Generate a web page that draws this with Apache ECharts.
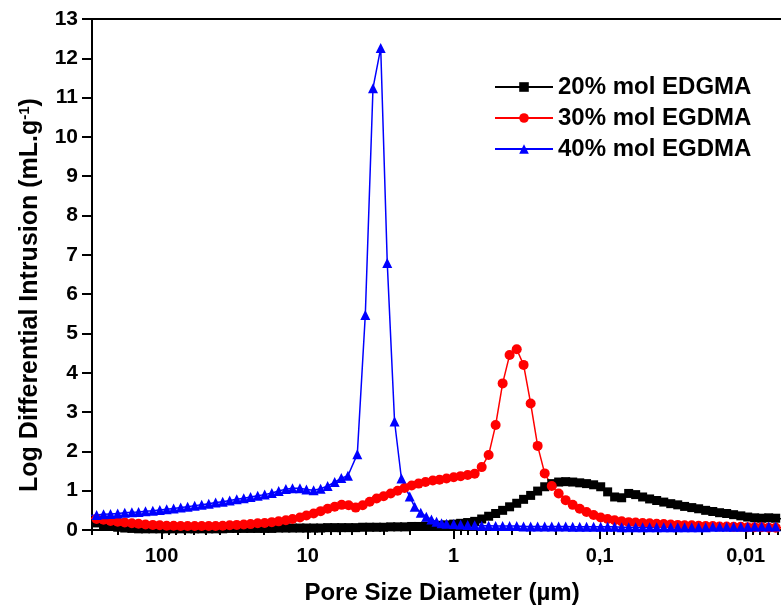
<!DOCTYPE html>
<html>
<head>
<meta charset="utf-8">
<script src="https://cdn.jsdelivr.net/npm/echarts@6/dist/echarts.min.js"></script>
<style>html,body{margin:0;padding:0;background:#fff}#c{width:781px;height:610px}</style>
</head>
<body>
<div id="c"></div>
<script>
// Pore size diameters (µm) shared by the 20% and 30% series
const poreSize = [311, 279, 250, 224, 200, 179, 160, 144, 129, 115,
  103, 92.4, 82.8, 74.1, 66.4, 59.4, 53.2, 47.6, 42.7, 38.2,
  34.2, 30.6, 27.4, 24.6, 22.0, 19.7, 17.6, 15.8, 14.1, 12.7,
  11.3, 10.2, 9.10, 8.15, 7.30, 6.53, 5.85, 5.24, 4.69, 4.20,
  3.76, 3.37, 3.02, 2.70, 2.42, 2.17, 1.94, 1.74, 1.56, 1.39,
  1.25, 1.12, 1.00, 0.896, 0.802, 0.718, 0.643, 0.576, 0.516, 0.462,
  0.414, 0.370, 0.332, 0.297, 0.266, 0.238, 0.213, 0.191, 0.171, 0.153,
  0.137, 0.123, 0.110, 0.0984, 0.0882, 0.0790, 0.0707, 0.0633, 0.0567, 0.0508,
  0.0455, 0.0407, 0.0364, 0.0326, 0.0292, 0.0262, 0.0234, 0.0210, 0.0188, 0.0168,
  0.0151, 0.0135, 0.0121, 0.0108, 0.00969, 0.00868, 0.00777, 0.00696, 0.00623, 0.00558];

// 20% mol EDGMA (black squares)
const egdma20 = [0.22, 0.18, 0.14, 0.10, 0.07, 0.05, 0.04, 0.03, 0.03, 0.03,
  0.03, 0.03, 0.03, 0.03, 0.03, 0.03, 0.03, 0.03, 0.03, 0.03,
  0.04, 0.04, 0.04, 0.04, 0.04, 0.04, 0.04, 0.05, 0.05, 0.05,
  0.05, 0.05, 0.05, 0.05, 0.06, 0.06, 0.06, 0.06, 0.06, 0.07,
  0.07, 0.07, 0.07, 0.08, 0.08, 0.08, 0.09, 0.09, 0.10, 0.11,
  0.12, 0.13, 0.15, 0.17, 0.19, 0.22, 0.28, 0.35, 0.42, 0.50,
  0.59, 0.68, 0.78, 0.88, 0.99, 1.10, 1.18, 1.22, 1.23, 1.22,
  1.20, 1.18, 1.15, 1.10, 0.97, 0.84, 0.82, 0.93, 0.90, 0.84,
  0.79, 0.75, 0.71, 0.67, 0.64, 0.60, 0.57, 0.54, 0.50, 0.47,
  0.44, 0.42, 0.39, 0.36, 0.33, 0.31, 0.30, 0.31, 0.30, 0.28];

// 30% mol EGDMA (red circles)
const egdma30 = [0.30, 0.28, 0.26, 0.23, 0.21, 0.19, 0.17, 0.16, 0.14, 0.13,
  0.12, 0.11, 0.11, 0.10, 0.10, 0.10, 0.10, 0.10, 0.10, 0.11,
  0.12, 0.13, 0.14, 0.15, 0.17, 0.18, 0.20, 0.22, 0.25, 0.28,
  0.32, 0.37, 0.42, 0.48, 0.54, 0.59, 0.64, 0.63, 0.57, 0.63,
  0.72, 0.80, 0.86, 0.93, 1.00, 1.07, 1.13, 1.18, 1.22, 1.26,
  1.28, 1.31, 1.34, 1.37, 1.40, 1.43, 1.60, 1.91, 2.67, 3.73,
  4.45, 4.60, 4.20, 3.22, 2.14, 1.44, 1.12, 0.93, 0.76, 0.64,
  0.54, 0.46, 0.38, 0.32, 0.28, 0.25, 0.22, 0.20, 0.19, 0.18,
  0.17, 0.16, 0.15, 0.14, 0.13, 0.12, 0.12, 0.11, 0.10, 0.10,
  0.09, 0.09, 0.08, 0.08, 0.07, 0.07, 0.07, 0.06, 0.06, 0.06];

// 40% mol EGDMA (blue triangles) has its own pore sizes around the peak
const poreSize40 = [311, 279, 250, 224, 200, 179, 160, 144, 129, 115,
  103, 92.4, 82.8, 74.1, 66.4, 59.4, 53.2, 47.6, 42.7, 38.2,
  34.2, 30.6, 27.4, 24.6, 22.0, 19.7, 17.6, 15.8, 14.1, 12.7,
  11.3, 10.2, 9.10, 8.15, 7.30, 6.53,
  5.88, 5.30, 4.57, 4.03, 3.57, 3.16, 2.85, 2.54, 2.28, 2.00, 1.85, 1.68, 1.54, 1.42, 1.31, 1.21,
  1.12, 1.00, 0.896, 0.802, 0.718, 0.643, 0.576, 0.516, 0.462,
  0.414, 0.370, 0.332, 0.297, 0.266, 0.238, 0.213, 0.191, 0.171, 0.153,
  0.137, 0.123, 0.110, 0.0984, 0.0882, 0.0790, 0.0707, 0.0633, 0.0567, 0.0508,
  0.0455, 0.0407, 0.0364, 0.0326, 0.0292, 0.0262, 0.0234, 0.0210, 0.0188, 0.0168,
  0.0151, 0.0135, 0.0121, 0.0108, 0.00969, 0.00868, 0.00777, 0.00696, 0.00623, 0.00558];
const egdma40 = [0.37, 0.38, 0.40, 0.41, 0.42, 0.44, 0.45, 0.46, 0.48, 0.49,
  0.51, 0.53, 0.55, 0.57, 0.59, 0.62, 0.64, 0.67, 0.70, 0.72,
  0.75, 0.78, 0.81, 0.84, 0.87, 0.90, 0.94, 0.99, 1.04, 1.06,
  1.06, 1.03, 1.01, 1.05, 1.12, 1.22,
  1.32, 1.38, 1.93, 5.47, 11.24, 12.26, 6.79, 2.76, 1.31, 0.85, 0.59, 0.44, 0.34, 0.27, 0.21, 0.17,
  0.16, 0.15, 0.14, 0.13, 0.12, 0.11, 0.11, 0.10, 0.10,
  0.10, 0.10, 0.09, 0.09, 0.09, 0.09, 0.09, 0.09, 0.09, 0.08,
  0.08, 0.08, 0.08, 0.08, 0.08, 0.08, 0.07, 0.07, 0.07, 0.07,
  0.07, 0.07, 0.07, 0.07, 0.07, 0.07, 0.07, 0.07, 0.07, 0.08,
  0.08, 0.08, 0.08, 0.08, 0.08, 0.09, 0.09, 0.09, 0.09];

const seriesNames = ['20% mol EDGMA', '30% mol EGDMA', '40% mol EGDMA'];
const xTickValues = [100, 10, 1, 0.1, 0.01];
const xMinorTickValues = [300, 200, 90, 80, 70, 60, 50, 40, 30, 20,
  9, 8, 7, 6, 5, 4, 3, 2, 0.9, 0.8, 0.7, 0.6, 0.5, 0.4, 0.3, 0.2,
  0.09, 0.08, 0.07, 0.06, 0.05, 0.04, 0.03, 0.02, 0.009, 0.008, 0.007, 0.006];
const xRange = [0.00573, 300];
const yRange = [0, 13];
const yInterval = 1;
const xTitle = 'Pore Size Diameter (µm)';
const yTitle = 'Log Differential Intrusion (mL.g{sup|-1})';

const FONT = '"Liberation Sans", Arial, sans-serif';
const pairs = (xs, ys) => xs.map((x, i) => [x, ys[i]]);

const chart = echarts.init(document.getElementById('c'), null, {renderer: 'canvas'});
const baseX = {
  type: 'log', logBase: 10, min: xRange[0], max: xRange[1], inverse: true,
  splitLine: {show: false}, minorTick: {show: false}, minorSplitLine: {show: false}
};
chart.setOption({
  animation: false,
  backgroundColor: '#fff',
  grid: {left: 92, right: 0, top: 19, bottom: 80, outerBoundsMode: 'none', containLabel: false},
  legend: {
    data: seriesNames, orient: 'vertical', left: 494, top: 75, padding: 0,
    itemWidth: 58, itemHeight: 12, itemGap: 7,
    textStyle: {fontSize: 24, fontWeight: 'bold', color: '#000', fontFamily: FONT}
  },
  xAxis: [
    Object.assign({}, baseX, {
      position: 'bottom',
      axisLine: {show: true, onZero: false, lineStyle: {color: '#000', width: 2}},
      axisTick: {show: true, inside: false, length: 9, customValues: xTickValues, lineStyle: {color: '#000', width: 2}},
      axisLabel: {
        show: true, customValues: xTickValues, margin: 16, color: '#000',
        fontSize: 20, fontWeight: 'bold', fontFamily: FONT,
        formatter: v => v >= 1 ? String(Math.round(v)) : String(+v.toPrecision(1)).replace('.', ',')
      }
    }),
    Object.assign({}, baseX, {
      position: 'bottom',
      axisLine: {show: false, onZero: false},
      axisTick: {show: true, inside: false, length: 5, customValues: xMinorTickValues, lineStyle: {color: '#000', width: 2}},
      axisLabel: {show: false}
    }),
    Object.assign({}, baseX, {
      position: 'top',
      axisLine: {show: true, onZero: false, lineStyle: {color: '#000', width: 2}},
      axisTick: {show: false},
      axisLabel: {show: false}
    })
  ],
  yAxis: {
    type: 'value', min: yRange[0], max: yRange[1], interval: yInterval,
    axisLine: {show: true, onZero: false, lineStyle: {color: '#000', width: 2}},
    axisTick: {show: true, inside: false, length: 10, lineStyle: {color: '#000', width: 2}},
    axisLabel: {margin: 14, color: '#000', fontSize: 21, fontWeight: 'bold', fontFamily: FONT},
    splitLine: {show: false}
  },
  series: [
    {name: seriesNames[0], type: 'line', xAxisIndex: 0, data: pairs(poreSize, egdma20),
     symbol: 'rect', symbolSize: 9, color: '#000000',
     lineStyle: {width: 1.5, color: '#000000'}, itemStyle: {color: '#000000'}},
    {name: seriesNames[1], type: 'line', xAxisIndex: 0, data: pairs(poreSize, egdma30),
     symbol: 'circle', symbolSize: 10, color: '#ff0000',
     lineStyle: {width: 1.5, color: '#ff0000'}, itemStyle: {color: '#ff0000'}},
    {name: seriesNames[2], type: 'line', xAxisIndex: 0, data: pairs(poreSize40, egdma40),
     symbol: 'triangle', symbolSize: 10, color: '#0000ff',
     lineStyle: {width: 1.5, color: '#0000ff'}, itemStyle: {color: '#0000ff'}}
  ],
  graphic: [
    {type: 'text', x: 442, y: 593, z: 100,
     style: {text: xTitle, fontSize: 24, fontWeight: 'bold', fontFamily: FONT, fill: '#000',
             align: 'center', verticalAlign: 'middle'}},
    {type: 'text', x: 30, y: 295, rotation: Math.PI / 2, z: 100,
     style: {text: yTitle, fontSize: 25, fontWeight: 'bold', fontFamily: FONT, fill: '#000',
             align: 'center', verticalAlign: 'middle',
             rich: {sup: {fontSize: 15, fontWeight: 'bold', fontFamily: FONT, fill: '#000', verticalAlign: 'top', padding: [0, 0, 9, 0]}}}}
  ]
});
</script>
</body>
</html>
